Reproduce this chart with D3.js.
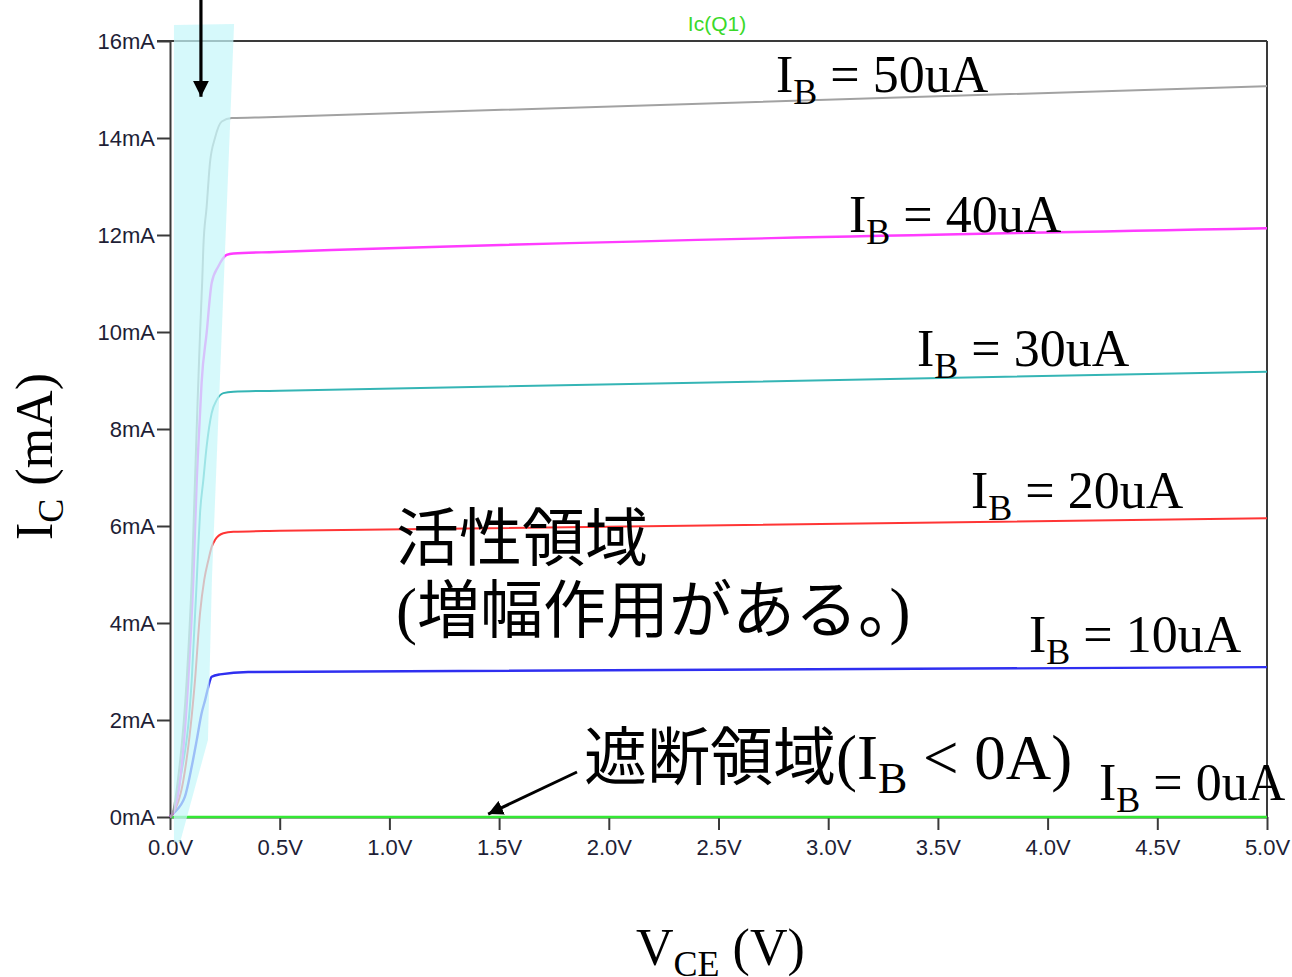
<!DOCTYPE html>
<html>
<head>
<meta charset="utf-8">
<script src="https://cdn.jsdelivr.net/npm/d3@7"></script>
<style>
  body { margin: 0; background: #fff; }
  svg { display: block; }
</style>
</head>
<body>
<svg id="chart" width="1292" height="977"></svg>
<script>
// Axis tick values
const xTicks = [0, 0.5, 1.0, 1.5, 2.0, 2.5, 3.0, 3.5, 4.0, 4.5, 5.0];
const yTicks = [0, 2, 4, 6, 8, 10, 12, 14, 16];

// Collector current Ic (mA) vs. Vce (V) for each base current
const ib0  = [[0, 0], [5, 0]];
const ib10 = [[0, 0], [0.01, 0.05], [0.068, 0.42], [0.099, 1.04], [0.122, 1.59], [0.144, 2.14],
              [0.160, 2.41], [0.175, 2.69], [0.19, 2.89], [0.228, 2.94], [0.356, 2.99], [5, 3.09]];
const ib20 = [[0, 0], [0.01, 0.05], [0.061, 0.76], [0.114, 2.82], [0.137, 4.21], [0.156, 4.89],
              [0.175, 5.30], [0.19, 5.57], [0.205, 5.71], [0.243, 5.85], [0.289, 5.88], [0.5, 5.90], [5, 6.16]];
const ib30 = [[0, 0], [0.01, 0.05], [0.046, 0.76], [0.099, 2.82], [0.122, 4.89], [0.129, 5.57],
              [0.137, 6.27], [0.152, 6.95], [0.167, 7.64], [0.19, 8.33], [0.213, 8.60], [0.243, 8.74],
              [0.289, 8.77], [0.5, 8.79], [5, 9.18]];
const ib40 = [[0, 0], [0.01, 0.05], [0.046, 0.76], [0.083, 2.82], [0.106, 4.89], [0.122, 6.95],
              [0.137, 8.33], [0.144, 8.95], [0.167, 9.98], [0.19, 11.01], [0.22, 11.35], [0.258, 11.59],
              [0.289, 11.62], [0.48, 11.65], [5, 12.14]];
const ib50 = [[0, 0], [0.009, 0.04], [0.036, 0.76], [0.076, 2.82], [0.099, 4.89], [0.114, 6.95],
              [0.126, 8.60], [0.137, 9.98], [0.147, 11.07], [0.152, 11.75], [0.167, 12.58], [0.182, 13.48],
              [0.205, 14.0], [0.236, 14.34], [0.281, 14.41], [0.44, 14.43], [5, 15.07]];

// Saturation region outline (Vce, Ic)
const saturationBand = [[0.018, 16.33], [0.292, 16.35], [0.191, 4.89], [0.173, 1.59], [0.046, -0.52], [0.018, -0.52]];

const svg = d3.select("#chart");
const W = 1292, H = 977;
const plot = { left: 170, right: 1267, top: 41, bottom: 817 };

const x = d3.scaleLinear().domain([0, 5]).range([plot.left, plot.right]);
const y = d3.scaleLinear().domain([0, 16]).range([plot.bottom, plot.top]);

svg.append("rect").attr("width", W).attr("height", H).attr("fill", "#fff");

const tickFont = "'Liberation Sans', Arial, sans-serif";
const serif = "'Liberation Serif', 'Times New Roman', serif";
const cjk = "'Noto Sans CJK JP', sans-serif";
const axisColor = "#3a3a3a";
const tickTextColor = "#1e1e36";

// Frame: top and right borders
svg.append("line")
  .attr("x1", plot.left - 13).attr("x2", plot.right)
  .attr("y1", plot.top).attr("y2", plot.top)
  .attr("stroke", axisColor).attr("stroke-width", 2);
svg.append("line")
  .attr("x1", plot.right).attr("x2", plot.right)
  .attr("y1", plot.top).attr("y2", plot.bottom)
  .attr("stroke", axisColor).attr("stroke-width", 2);

// Y axis
const yAxis = svg.append("g")
  .attr("transform", `translate(${plot.left},0)`)
  .call(d3.axisLeft(y).tickValues(yTicks).tickFormat(d => d + "mA").tickSize(13).tickSizeOuter(0).tickPadding(2));

// X axis
const xAxis = svg.append("g")
  .attr("transform", `translate(0,${plot.bottom})`)
  .call(d3.axisBottom(x).tickValues(xTicks).tickFormat(d => d3.format(".1f")(d) + "V").tickSize(13).tickSizeOuter(0).tickPadding(5));

[yAxis, xAxis].forEach(g => {
  g.select(".domain").attr("stroke", axisColor).attr("stroke-width", 2);
  g.selectAll(".tick line").attr("stroke", axisColor).attr("stroke-width", 2);
  g.selectAll(".tick text")
    .attr("fill", tickTextColor)
    .style("font-family", tickFont)
    .style("font-size", "22px");
});
xAxis.selectAll(".tick text").attr("dy", "0.9em");

// Trace name
svg.append("text")
  .attr("x", 717).attr("y", 31)
  .attr("text-anchor", "middle")
  .attr("fill", "#3ad92a")
  .style("font-family", tickFont)
  .style("font-size", "21px")
  .text("Ic(Q1)");

// Characteristic curves
const series = [
  { values: ib0,  color: "#33e833", width: 2.5 },
  { values: ib10, color: "#2f2ff0", width: 2.4 },
  { values: ib20, color: "#ff3535", width: 2 },
  { values: ib30, color: "#35b5b5", width: 2 },
  { values: ib40, color: "#ff3cff", width: 2.4 },
  { values: ib50, color: "#a2a2a2", width: 2 }
];
const line = d3.line().x(d => x(d[0])).y(d => y(d[1])).curve(d3.curveMonotoneX);
svg.append("g").selectAll("path")
  .data(series)
  .join("path")
  .attr("d", d => line(d.values))
  .attr("fill", "none")
  .attr("stroke", d => d.color)
  .attr("stroke-width", d => d.width)
  .attr("stroke-linejoin", "round");

// Saturation region highlight
svg.append("path")
  .attr("d", d3.line().x(d => x(d[0])).y(d => y(d[1]))(saturationBand) + "Z")
  .attr("fill", "#c6f7fa")
  .attr("fill-opacity", 0.72);

// Arrow markers
const defs = svg.append("defs");
defs.append("marker")
  .attr("id", "head")
  .attr("viewBox", "0 0 10 10")
  .attr("refX", 10).attr("refY", 5)
  .attr("markerWidth", 5).attr("markerHeight", 5)
  .attr("markerUnits", "strokeWidth")
  .attr("orient", "auto")
  .append("path").attr("d", "M0,0 L10,5 L0,10 Z").attr("fill", "#000");

svg.append("line")
  .attr("x1", x(0.141)).attr("y1", 0)
  .attr("x2", x(0.141)).attr("y2", y(14.85))
  .attr("stroke", "#000").attr("stroke-width", 3.2)
  .attr("marker-end", "url(#head)");

svg.append("line")
  .attr("x1", 577).attr("y1", 772)
  .attr("x2", x(1.45)).attr("y2", y(0.06))
  .attr("stroke", "#000").attr("stroke-width", 3)
  .attr("marker-end", "url(#head)");

// Base current labels
const ibLabels = [
  { x: 776, y: 92,  text: " = 50uA" },
  { x: 849, y: 232, text: " = 40uA" },
  { x: 917, y: 366, text: " = 30uA" },
  { x: 971, y: 508, text: " = 20uA" },
  { x: 1029, y: 652, text: " = 10uA" },
  { x: 1099, y: 800, text: " = 0uA" }
];
ibLabels.forEach(l => {
  const t = svg.append("text")
    .attr("x", l.x).attr("y", l.y)
    .attr("fill", "#000")
    .style("font-family", serif)
    .style("font-size", "52px");
  t.append("tspan").text("I");
  t.append("tspan").attr("dy", 12).style("font-size", "36px").text("B");
  t.append("tspan").attr("dy", -12).text(l.text);
});

// Region annotations
svg.append("text")
  .attr("x", 396).attr("y", 560)
  .attr("fill", "#000")
  .style("font-family", cjk).style("font-size", "63px")
  .text("活性領域");

const active2 = svg.append("text")
  .attr("x", 396).attr("y", 632)
  .attr("fill", "#000")
  .style("font-size", "63px");
active2.append("tspan").style("font-family", serif).text("(");
active2.append("tspan").style("font-family", cjk).text("増幅作用がある。");
active2.append("tspan").style("font-family", serif).text(")");

const cutoff = svg.append("text")
  .attr("x", 584).attr("y", 779)
  .attr("fill", "#000")
  .style("font-size", "63px");
cutoff.append("tspan").style("font-family", cjk).text("遮断領域");
cutoff.append("tspan").style("font-family", serif).text("(I");
cutoff.append("tspan").style("font-family", serif).attr("dy", 14).style("font-size", "44px").text("B");
cutoff.append("tspan").style("font-family", serif).attr("dy", -14).text(" < 0A)");

// Axis titles
const yTitle = svg.append("text")
  .attr("transform", "translate(52,540) rotate(-90)")
  .attr("fill", "#000")
  .style("font-family", serif).style("font-size", "52px");
yTitle.append("tspan").text("I");
yTitle.append("tspan").attr("dy", 11).style("font-size", "36px").text("C");
yTitle.append("tspan").attr("dy", -11).text(" (mA)");

const xTitle = svg.append("text")
  .attr("x", 636).attr("y", 965)
  .attr("fill", "#000")
  .style("font-family", serif).style("font-size", "52px");
xTitle.append("tspan").text("V");
xTitle.append("tspan").attr("dy", 11).style("font-size", "36px").text("CE");
xTitle.append("tspan").attr("dy", -11).text(" (V)");
</script>
</body>
</html>
